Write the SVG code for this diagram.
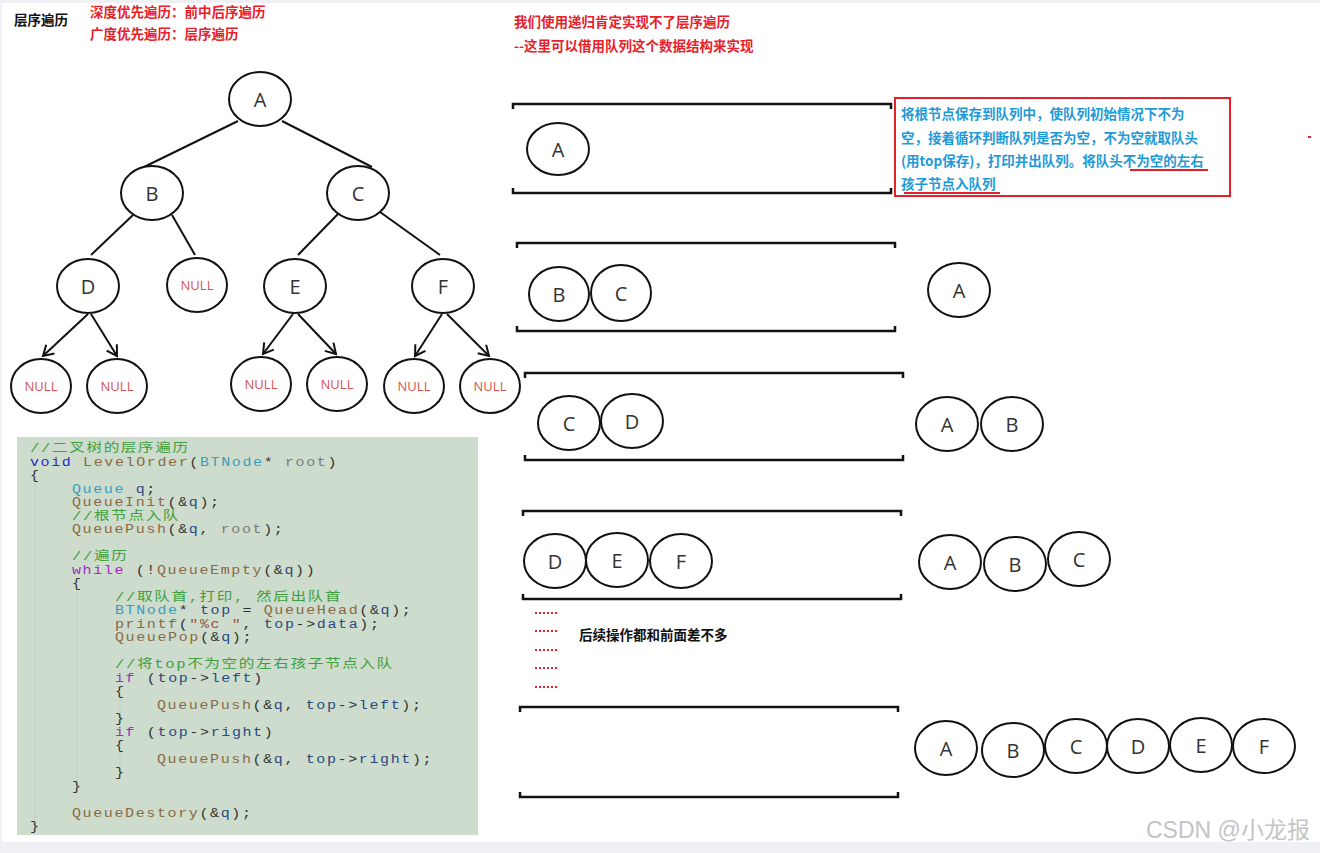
<svg xmlns="http://www.w3.org/2000/svg" width="1320" height="853" viewBox="0 0 1320 853">
<defs>
<marker id="arr" markerUnits="userSpaceOnUse" markerWidth="16" markerHeight="16" refX="11" refY="7" orient="auto">
<path d="M1,1 L11,7 L1,13" fill="none" stroke="#111" stroke-width="2"/>
</marker>
<style>
.nd{fill:#fff;stroke:#111;stroke-width:2}
.lt{font-family:"Open Sans","Noto Sans",sans-serif;font-size:20px;fill:#333;text-anchor:middle;dominant-baseline:central}
.nl{font-family:"Open Sans","Noto Sans",sans-serif;font-size:13px;fill:#d9534f;text-anchor:middle;dominant-baseline:central}
.ed{stroke:#111;stroke-width:2;fill:none}
.br{stroke:#111;stroke-width:2.5;fill:none}
.rt{font-family:"Noto Sans CJK SC",sans-serif;font-weight:bold;font-size:13.5px;fill:#e8202a}
.bk{font-family:"Noto Sans CJK SC",sans-serif;font-weight:bold;font-size:13.5px;fill:#111}
.bl{font-family:"Noto Sans CJK SC",sans-serif;font-weight:bold;font-size:13.5px;fill:#1e9ad6}
.code{font-family:"Liberation Mono","Noto Sans CJK SC",monospace;font-size:12px;letter-spacing:1.3px;white-space:pre}
.cm{fill:#3f9f3f;font-size:12.5px}
.kw{fill:#2a2ac8}
.kp{fill:#a32ec6}
.fn{fill:#8a6a44}
.ty{fill:#3c9cbc}
.pa{fill:#7d7d7d}
.va{fill:#2c4a82}
.st{fill:#a0503a}
.pl{fill:#333}
</style>
</defs>
<rect width="1320" height="853" fill="#fff"/>
<rect x="0" y="0" width="1320" height="3" fill="#eef0f4"/>
<rect x="0" y="842" width="1320" height="11" fill="#eef0f4"/>
<rect x="0" y="0" width="2" height="853" fill="#eef0f4"/>

<!-- headings -->
<g id="titles">
<text class="bk" x="14" y="25">层序遍历</text>
<text class="rt" x="90" y="17">深度优先遍历：前中后序遍历</text>
<text class="rt" x="90" y="39">广度优先遍历：层序遍历</text>
<text class="rt" x="514" y="27">我们使用递归肯定实现不了层序遍历</text>
<text class="rt" x="514" y="51">--这里可以借用队列这个数据结构来实现</text>
</g>

<!-- tree connectors -->
<g id="connectors">
<line class="ed" x1="238" y1="121" x2="142" y2="168"/>
<line class="ed" x1="282" y1="121" x2="372" y2="167"/>
<line class="ed" x1="133" y1="215" x2="91" y2="255"/>
<line class="ed" x1="172" y1="215" x2="195" y2="255"/>
<line class="ed" x1="338" y1="214" x2="298" y2="255"/>
<line class="ed" x1="380" y1="212" x2="440" y2="255"/>
<line class="ed" x1="88" y1="314" x2="43" y2="356" marker-end="url(#arr)"/>
<line class="ed" x1="91" y1="314" x2="117" y2="356" marker-end="url(#arr)"/>
<line class="ed" x1="293" y1="314" x2="263" y2="354" marker-end="url(#arr)"/>
<line class="ed" x1="298" y1="314" x2="336" y2="354" marker-end="url(#arr)"/>
<line class="ed" x1="442" y1="314" x2="415" y2="356" marker-end="url(#arr)"/>
<line class="ed" x1="447" y1="314" x2="489" y2="356" marker-end="url(#arr)"/>
</g>

<!-- tree nodes -->
<g id="tA"><ellipse class="nd" cx="260" cy="99" rx="31" ry="27"/><text class="lt" x="260" y="99">A</text></g>
<g id="tB"><ellipse class="nd" cx="152" cy="193" rx="31" ry="27"/><text class="lt" x="152" y="193">B</text></g>
<g id="tC"><ellipse class="nd" cx="358" cy="193" rx="31" ry="27"/><text class="lt" x="358" y="193">C</text></g>
<g id="tD"><ellipse class="nd" cx="88" cy="286" rx="31" ry="27"/><text class="lt" x="88" y="286">D</text></g>
<g id="tBn"><ellipse class="nd" cx="197" cy="285" rx="30" ry="27"/><text class="nl" x="197" y="285">NULL</text></g>
<g id="tE"><ellipse class="nd" cx="295" cy="286" rx="31" ry="27"/><text class="lt" x="295" y="286">E</text></g>
<g id="tF"><ellipse class="nd" cx="443" cy="286" rx="31" ry="27"/><text class="lt" x="443" y="286">F</text></g>
<g id="n1"><ellipse class="nd" cx="41" cy="386" rx="30" ry="27"/><text class="nl" x="41" y="386">NULL</text></g>
<g id="n2"><ellipse class="nd" cx="117" cy="386" rx="30" ry="27"/><text class="nl" x="117" y="386">NULL</text></g>
<g id="n3"><ellipse class="nd" cx="261" cy="384" rx="30" ry="27"/><text class="nl" x="261" y="384">NULL</text></g>
<g id="n4"><ellipse class="nd" cx="337" cy="384" rx="30" ry="27"/><text class="nl" x="337" y="384">NULL</text></g>
<g id="n5"><ellipse class="nd" cx="414" cy="386" rx="30" ry="27"/><text class="nl" x="414" y="386">NULL</text></g>
<g id="n6"><ellipse class="nd" cx="490" cy="386" rx="30" ry="27"/><text class="nl" x="490" y="386">NULL</text></g>

<!-- code -->
<g id="code">
<rect x="17" y="437" width="461" height="398" fill="#cddccc"/>
<g stroke="#b8c8b8" stroke-width="1" stroke-dasharray="2,2">
<line x1="35" y1="484" x2="35" y2="826"/>
<line x1="77" y1="592" x2="77" y2="785"/>
<line x1="120" y1="700" x2="120" y2="718"/>
<line x1="120" y1="754" x2="120" y2="772"/>
</g>
<g transform="scale(1.25,1)">
<text class="code" x="24" y="452"><tspan class="cm">//二叉树的层序遍历</tspan></text>
<text class="code" x="24" y="466"><tspan class="kw">void</tspan> <tspan class="fn">LevelOrder</tspan><tspan class="pl">(</tspan><tspan class="ty">BTNode</tspan><tspan class="pl">*</tspan> <tspan class="pa">root</tspan><tspan class="pl">)</tspan></text>
<text class="code pl" x="24" y="479">{</text>
<text class="code" x="57.6" y="493"><tspan class="ty">Queue</tspan> <tspan class="va">q</tspan><tspan class="pl">;</tspan></text>
<text class="code" x="57.6" y="506"><tspan class="fn">QueueInit</tspan><tspan class="pl">(&amp;</tspan><tspan class="va">q</tspan><tspan class="pl">);</tspan></text>
<text class="code" x="57.6" y="520"><tspan class="cm">//根节点入队</tspan></text>
<text class="code" x="57.6" y="533"><tspan class="fn">QueuePush</tspan><tspan class="pl">(&amp;</tspan><tspan class="va">q</tspan><tspan class="pl">, </tspan><tspan class="pa">root</tspan><tspan class="pl">);</tspan></text>
<text class="code" x="57.6" y="560"><tspan class="cm">//遍历</tspan></text>
<text class="code" x="57.6" y="574"><tspan class="kp">while</tspan><tspan class="pl"> (!</tspan><tspan class="fn">QueueEmpty</tspan><tspan class="pl">(&amp;</tspan><tspan class="va">q</tspan><tspan class="pl">))</tspan></text>
<text class="code pl" x="57.6" y="587">{</text>
<text class="code" x="92" y="601"><tspan class="cm">//取队首,打印, 然后出队首</tspan></text>
<text class="code" x="92" y="614"><tspan class="ty">BTNode</tspan><tspan class="pl">*</tspan> <tspan class="va">top</tspan><tspan class="pl"> = </tspan><tspan class="fn">QueueHead</tspan><tspan class="pl">(&amp;</tspan><tspan class="va">q</tspan><tspan class="pl">);</tspan></text>
<text class="code" x="92" y="628"><tspan class="fn">printf</tspan><tspan class="pl">(</tspan><tspan class="st">"%c "</tspan><tspan class="pl">, </tspan><tspan class="va">top</tspan><tspan class="pl">-&gt;</tspan><tspan class="va">data</tspan><tspan class="pl">);</tspan></text>
<text class="code" x="92" y="641"><tspan class="fn">QueuePop</tspan><tspan class="pl">(&amp;</tspan><tspan class="va">q</tspan><tspan class="pl">);</tspan></text>
<text class="code" x="92" y="668"><tspan class="cm">//将top不为空的左右孩子节点入队</tspan></text>
<text class="code" x="92" y="682"><tspan class="kp">if</tspan><tspan class="pl"> (</tspan><tspan class="va">top</tspan><tspan class="pl">-&gt;</tspan><tspan class="va">left</tspan><tspan class="pl">)</tspan></text>
<text class="code pl" x="92" y="695">{</text>
<text class="code" x="125.6" y="709"><tspan class="fn">QueuePush</tspan><tspan class="pl">(&amp;</tspan><tspan class="va">q</tspan><tspan class="pl">, </tspan><tspan class="va">top</tspan><tspan class="pl">-&gt;</tspan><tspan class="va">left</tspan><tspan class="pl">);</tspan></text>
<text class="code pl" x="92" y="722">}</text>
<text class="code" x="92" y="736"><tspan class="kp">if</tspan><tspan class="pl"> (</tspan><tspan class="va">top</tspan><tspan class="pl">-&gt;</tspan><tspan class="va">right</tspan><tspan class="pl">)</tspan></text>
<text class="code pl" x="92" y="749">{</text>
<text class="code" x="125.6" y="763"><tspan class="fn">QueuePush</tspan><tspan class="pl">(&amp;</tspan><tspan class="va">q</tspan><tspan class="pl">, </tspan><tspan class="va">top</tspan><tspan class="pl">-&gt;</tspan><tspan class="va">right</tspan><tspan class="pl">);</tspan></text>
<text class="code pl" x="92" y="776">}</text>
<text class="code pl" x="57.6" y="790">}</text>
<text class="code" x="57.6" y="817"><tspan class="fn">QueueDestory</tspan><tspan class="pl">(&amp;</tspan><tspan class="va">q</tspan><tspan class="pl">);</tspan></text>
<text class="code pl" x="24" y="830">}</text>
</g>
</g>

<!-- queue 1 -->
<g id="queue1">
<path class="br" d="M513,109 V104 H891 V109 M513,188 V193 H891 V188"/>
<ellipse class="nd" cx="558" cy="149" rx="31" ry="26"/><text class="lt" x="558" y="149">A</text>
</g>
<g id="note">
<rect x="895" y="98" width="335" height="98" fill="none" stroke="#e8202a" stroke-width="2"/>
<text class="bl" x="901" y="119">将根节点保存到队列中，使队列初始情况下不为</text>
<text class="bl" x="901" y="143">空，接着循环判断队列是否为空，不为空就取队头</text>
<text class="bl" x="901" y="166">(用top保存)，打印并出队列。将队头不为空的左右</text>
<text class="bl" x="901" y="189">孩子节点入队列</text>
<line x1="1130" y1="170" x2="1208" y2="170" stroke="#e8202a" stroke-width="2"/>
<line x1="904" y1="193" x2="1000" y2="193" stroke="#e8202a" stroke-width="2"/>
<rect x="1308" y="136" width="3" height="2" fill="#e8202a"/>
</g>

<!-- queue 2 -->
<g id="queue2">
<path class="br" d="M517,248 V243 H895 V248 M517,326 V331 H895 V326"/>
<ellipse class="nd" cx="559" cy="294" rx="30" ry="27"/><text class="lt" x="559" y="294">B</text>
<ellipse class="nd" cx="621" cy="293" rx="30" ry="28"/><text class="lt" x="621" y="293">C</text>
</g>
<g id="out2"><ellipse class="nd" cx="959" cy="290" rx="31" ry="27"/><text class="lt" x="959" y="290">A</text></g>

<!-- queue 3 -->
<g id="queue3">
<path class="br" d="M525,378 V373 H903 V378 M525,455 V460 H903 V455"/>
<ellipse class="nd" cx="569" cy="423" rx="31" ry="27"/><text class="lt" x="569" y="423">C</text>
<ellipse class="nd" cx="632" cy="421" rx="31" ry="27"/><text class="lt" x="632" y="421">D</text>
</g>
<g id="out3">
<ellipse class="nd" cx="947" cy="424" rx="31" ry="27"/><text class="lt" x="947" y="424">A</text>
<ellipse class="nd" cx="1012" cy="424" rx="31" ry="27"/><text class="lt" x="1012" y="424">B</text>
</g>

<!-- queue 4 -->
<g id="queue4">
<path class="br" d="M523,516 V511 H901 V516 M523,594 V599 H901 V594"/>
<ellipse class="nd" cx="555" cy="561" rx="31" ry="27"/><text class="lt" x="555" y="561">D</text>
<ellipse class="nd" cx="617" cy="560" rx="31" ry="27"/><text class="lt" x="617" y="560">E</text>
<ellipse class="nd" cx="681" cy="561" rx="31" ry="27"/><text class="lt" x="681" y="561">F</text>
</g>
<g id="out4">
<ellipse class="nd" cx="950" cy="562" rx="31" ry="27"/><text class="lt" x="950" y="562">A</text>
<ellipse class="nd" cx="1015" cy="564" rx="31" ry="27"/><text class="lt" x="1015" y="564">B</text>
<ellipse class="nd" cx="1079" cy="559" rx="31" ry="27"/><text class="lt" x="1079" y="559">C</text>
</g>

<g id="ellipsis" fill="#e8202a">
<g id="dots"><rect x="535" y="612" width="2" height="2"/><rect x="539" y="612" width="2" height="2"/><rect x="543" y="612" width="2" height="2"/><rect x="547" y="612" width="2" height="2"/><rect x="551" y="612" width="2" height="2"/><rect x="555" y="612" width="2" height="2"/></g>
<use href="#dots" y="18"/>
<use href="#dots" y="37"/>
<use href="#dots" y="55"/>
<use href="#dots" y="74"/>
</g>
<text class="bk" x="579" y="640">后续操作都和前面差不多</text>

<!-- queue 5 -->
<g id="queue5">
<path class="br" d="M520,712 V707 H898 V712 M520,792 V797 H898 V792"/>
</g>
<g id="out5">
<ellipse class="nd" cx="946" cy="748" rx="31" ry="27"/><text class="lt" x="946" y="748">A</text>
<ellipse class="nd" cx="1013" cy="750" rx="31" ry="27"/><text class="lt" x="1013" y="750">B</text>
<ellipse class="nd" cx="1076" cy="746" rx="31" ry="27"/><text class="lt" x="1076" y="746">C</text>
<ellipse class="nd" cx="1138" cy="746" rx="31" ry="27"/><text class="lt" x="1138" y="746">D</text>
<ellipse class="nd" cx="1201" cy="745" rx="31" ry="27"/><text class="lt" x="1201" y="745">E</text>
<ellipse class="nd" cx="1264" cy="746" rx="31" ry="27"/><text class="lt" x="1264" y="746">F</text>
</g>

<text x="1146" y="838" font-family="'Liberation Sans','Noto Sans CJK SC',sans-serif" font-size="23" fill="#c4c4c4">CSDN @小龙报</text>
</svg>
